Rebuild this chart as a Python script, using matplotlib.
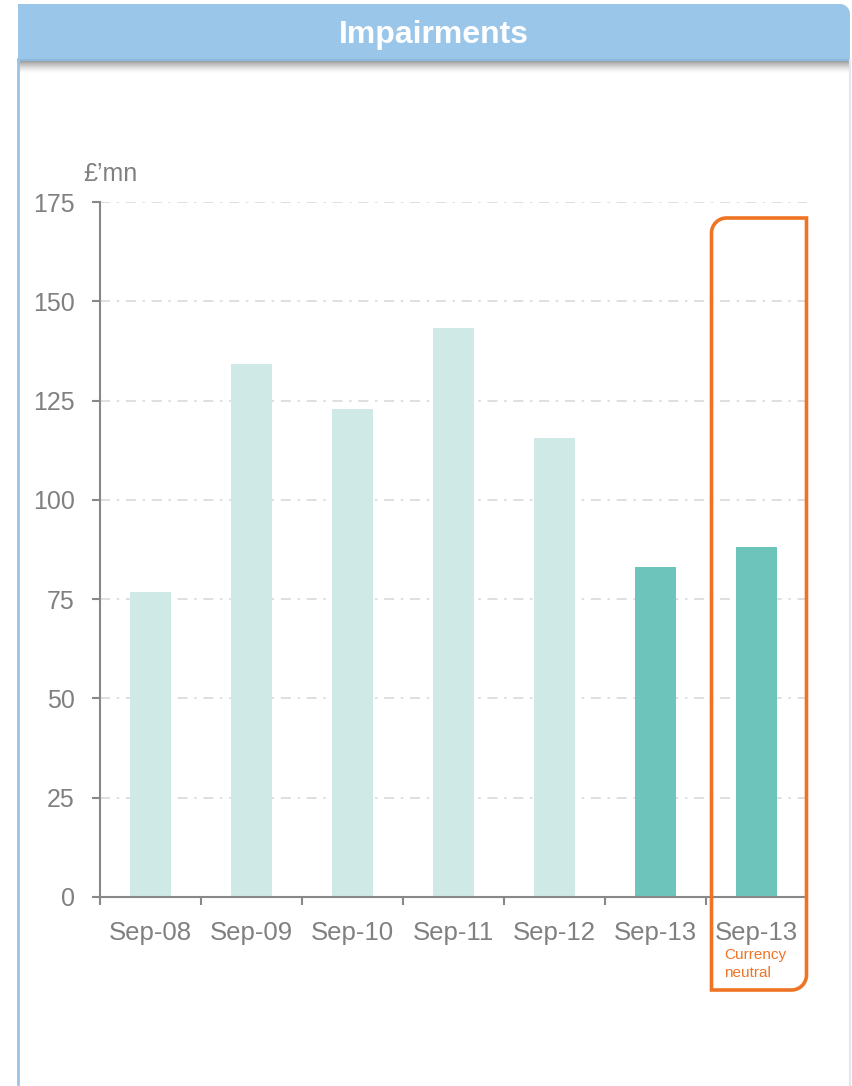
import numpy as np
import matplotlib.pyplot as plt
from matplotlib.path import Path
from matplotlib.patches import PathPatch, Rectangle

plt.rcParams['font.family'] = ['Liberation Sans', 'DejaVu Sans']

periods = ['Sep-08', 'Sep-09', 'Sep-10', 'Sep-11', 'Sep-12', 'Sep-13', 'Sep-13']
impairments = [76.8, 134.2, 122.9, 143.3, 115.6, 83.1, 88.1]
highlight = [False, False, False, False, False, True, True]
yticks = [0, 25, 50, 75, 100, 125, 150, 175]

light = '#CFEAE6'
dark = '#6DC4BA'
orange = '#EE7424'
grey_txt = '#808080'

W, H = 852, 1086


def rounded_box(x0, y0, x1, y1, r, corners):
    """Closed path in pixel coords (y down); corners is a set of 'tl','tr','br','bl'."""
    k = 0.5523 * r
    verts, codes = [], []

    def go(p, code):
        verts.append(p)
        codes.append(code)

    # start along the top edge
    go((x0 + (r if 'tl' in corners else 0), y0), Path.MOVETO)
    if 'tr' in corners:
        go((x1 - r, y0), Path.LINETO)
        go((x1 - r + k, y0), Path.CURVE4); go((x1, y0 + r - k), Path.CURVE4); go((x1, y0 + r), Path.CURVE4)
    else:
        go((x1, y0), Path.LINETO)
    if 'br' in corners:
        go((x1, y1 - r), Path.LINETO)
        go((x1, y1 - r + k), Path.CURVE4); go((x1 - r + k, y1), Path.CURVE4); go((x1 - r, y1), Path.CURVE4)
    else:
        go((x1, y1), Path.LINETO)
    if 'bl' in corners:
        go((x0 + r, y1), Path.LINETO)
        go((x0 + r - k, y1), Path.CURVE4); go((x0, y1 - r + k), Path.CURVE4); go((x0, y1 - r), Path.CURVE4)
    else:
        go((x0, y1), Path.LINETO)
    if 'tl' in corners:
        go((x0, y0 + r), Path.LINETO)
        go((x0, y0 + r - k), Path.CURVE4); go((x0 + r - k, y0), Path.CURVE4); go((x0 + r, y0), Path.CURVE4)
    else:
        go((x0, y0), Path.LINETO)
    go((0, 0), Path.CLOSEPOLY)
    return Path(verts, codes)


fig = plt.figure(figsize=(W / 100, H / 100), dpi=100)
fig.patch.set_facecolor('white')

# main chart
ax = fig.add_axes([100 / W, 1 - 897 / H, 707 / W, 695 / H])
x = np.arange(len(periods))
colors = [dark if h else light for h in highlight]
ax.bar(x, impairments, width=0.4, color=colors, zorder=2)
ax.set_xlim(-0.5, len(periods) - 0.5)
ax.set_ylim(0, 175)
ax.set_yticks(yticks)
ax.set_yticklabels([str(v) for v in yticks])
ax.set_xticks(x)
ax.set_xticklabels(periods)
ax.set_xticks(np.arange(len(periods)) - 0.5, minor=True)
ax.tick_params(axis='x', which='major', length=0, pad=17, labelsize=18.5, labelcolor=grey_txt)
ax.tick_params(axis='x', which='minor', length=5.5, width=1.5, color='#888888', direction='out')
ax.tick_params(axis='y', length=6, width=1.5, color='#888888', pad=12, labelsize=18,
               labelcolor=grey_txt)
for s in ['top', 'right']:
    ax.spines[s].set_visible(False)
for s in ['left', 'bottom']:
    ax.spines[s].set_color('#888888')
    ax.spines[s].set_linewidth(1.5)
ax.yaxis.grid(True, color='#D9D9D9', linewidth=1.2, linestyle=(0, (6, 4, 1.5, 4)), zorder=0)
ax.set_axisbelow(True)
fig.text(110 / W, 1 - 181 / H, '£’mn', ha='center', va='baseline', fontsize=18, color=grey_txt)

# overlay in pixel coordinates for the panel frame and highlight box
ov = fig.add_axes([0, 0, 1, 1], zorder=5)
ov.set_xlim(0, W)
ov.set_ylim(H, 0)
ov.axis('off')
ov.patch.set_alpha(0)

# header shadow
for i in range(14):
    ov.add_patch(Rectangle((18, 59 + i), 832, 1, color='#606060',
                           alpha=0.75 * (1 - i / 14) ** 1.5, lw=0))
# header bar
ov.add_patch(PathPatch(rounded_box(18, 4, 850, 60, 10, {'tr'}), facecolor='#9AC6EA',
                       edgecolor='none'))
ov.plot([18, 850], [59.5, 59.5], color='#8DB9DE', lw=1.5)
ov.text(434, 35, 'Impairments', ha='center', va='center', fontsize=23, fontweight='bold',
        color='white')

# panel borders
ov.plot([18, 18], [59, H], color='#9DC3E6', lw=2)
ov.plot([850, 850], [60, H], color='#E3E6EA', lw=1.5)

# highlight box around the currency neutral bar
ov.add_patch(PathPatch(rounded_box(711.5, 218, 806.5, 990, 15, {'tl', 'br'}),
                       facecolor='none', edgecolor=orange, lw=2.6))
ov.text(724, 948, 'Currency', ha='left', va='top', fontsize=11, color=orange)
ov.text(724, 966, 'neutral', ha='left', va='top', fontsize=11, color=orange)

fig.savefig('out.png', dpi=100)
